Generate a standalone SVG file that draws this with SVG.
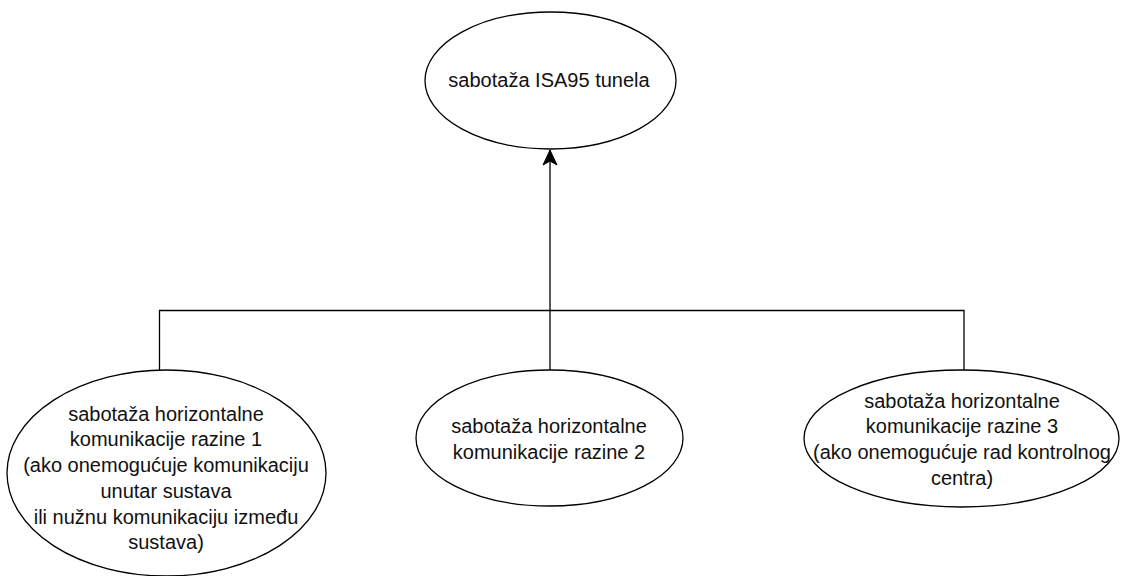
<svg xmlns="http://www.w3.org/2000/svg" width="1122" height="576" viewBox="0 0 1122 576">
<style>
.node{fill:#ffffff;stroke:#000000;stroke-width:1.3}
.lbl{font-family:"Liberation Sans",Arial,Helvetica,sans-serif;font-size:20px;fill:#111111;text-anchor:middle}
.edge{fill:none;stroke:#000000;stroke-width:1.3}
</style>
<defs>
<marker id="arrow" viewBox="-16 -8 17 16" markerWidth="17" markerHeight="16" refX="0" refY="0" orient="auto" markerUnits="userSpaceOnUse">
<path d="M0,0 L-15,-7 L-11,0 L-15,7 Z" fill="#000000" stroke="#000000" stroke-width="1"/>
</marker>
</defs>
<rect width="1122" height="576" fill="#ffffff"/>
<g id="connectors">
<path class="edge" d="M159.5,370 V310.5 H964 V370"/>
<path class="edge" d="M550,370 V150" marker-end="url(#arrow)"/>
</g>
<g id="node-root">
<ellipse class="node" cx="550.5" cy="80.5" rx="125.5" ry="68.5"/>
<text class="lbl" x="549" y="87">sabotaža ISA95 tunela</text>
</g>
<g id="node-level1">
<ellipse class="node" cx="166.5" cy="473" rx="159.5" ry="103"/>
<text class="lbl" x="166" y="420.7">sabotaža horizontalne</text>
<text class="lbl" x="166" y="446.4">komunikacije razine 1</text>
<text class="lbl" x="166" y="472.1">(ako onemogućuje komunikaciju</text>
<text class="lbl" x="166" y="497.8">unutar sustava</text>
<text class="lbl" x="166" y="523.5">ili nužnu komunikaciju između</text>
<text class="lbl" x="166" y="549.2">sustava)</text>
</g>
<g id="node-level2">
<ellipse class="node" cx="549.5" cy="438" rx="133.5" ry="68"/>
<text class="lbl" x="549" y="433.3">sabotaža horizontalne</text>
<text class="lbl" x="549" y="459">komunikacije razine 2</text>
</g>
<g id="node-level3">
<ellipse class="node" cx="961.5" cy="438.5" rx="157.5" ry="68.5"/>
<text class="lbl" x="962" y="407.5">sabotaža horizontalne</text>
<text class="lbl" x="962" y="433.2">komunikacije razine 3</text>
<text class="lbl" x="962" y="458.9">(ako onemogućuje rad kontrolnog</text>
<text class="lbl" x="962" y="484.6">centra)</text>
</g>
</svg>
